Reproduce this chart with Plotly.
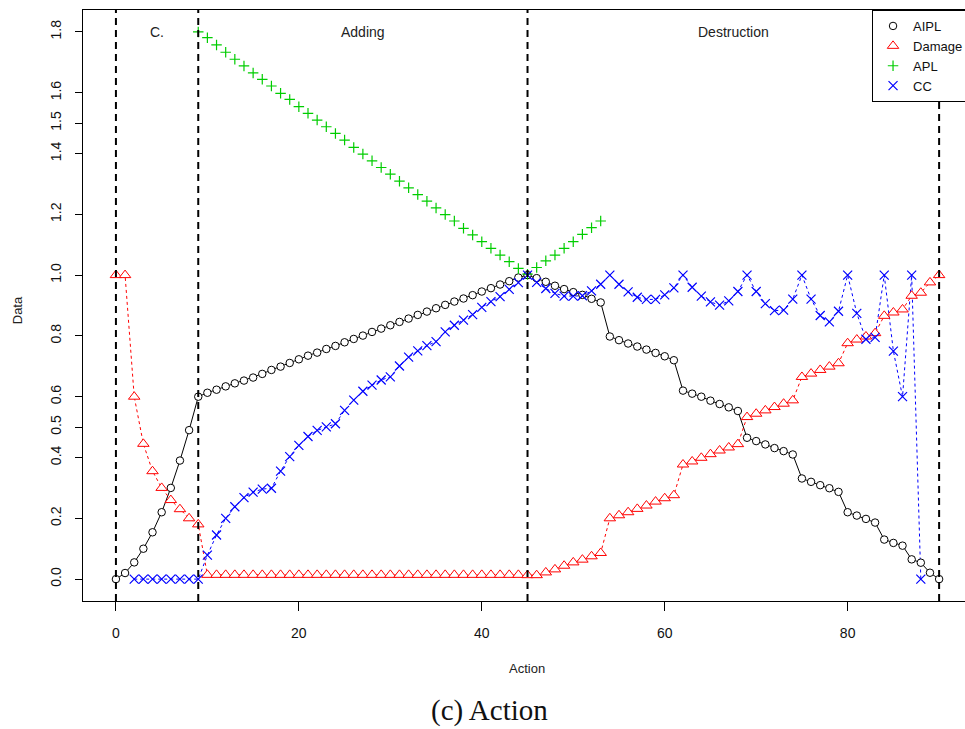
import plotly.graph_objects as go

actions = list(range(91))

aipl = [0.0, 0.02, 0.055, 0.10, 0.154, 0.22, 0.30, 0.39, 0.49, 0.60,
        0.613, 0.623, 0.634, 0.644, 0.653, 0.663, 0.675, 0.688, 0.699, 0.711,
        0.723, 0.735, 0.745, 0.757, 0.767, 0.779, 0.790, 0.801, 0.813, 0.824,
        0.835, 0.846, 0.857, 0.869, 0.880, 0.891, 0.902, 0.913, 0.923, 0.934,
        0.946, 0.957, 0.969, 0.980, 0.992, 1.0, 0.99, 0.978, 0.965, 0.954,
        0.944, 0.935, 0.922, 0.910, 0.798, 0.786, 0.775, 0.765, 0.755, 0.744,
        0.733, 0.720, 0.62, 0.61, 0.60, 0.587, 0.576, 0.565, 0.553, 0.465,
        0.454, 0.443, 0.431, 0.421, 0.41, 0.331, 0.32, 0.309, 0.299, 0.287,
        0.220, 0.209, 0.198, 0.186, 0.13, 0.119, 0.11, 0.065, 0.054, 0.021,
        0.0]

damage = [1.0, 1.0, 0.60, 0.445, 0.355, 0.30, 0.26, 0.23, 0.20, 0.18,
          0.014, 0.014, 0.014, 0.014, 0.014, 0.014, 0.014, 0.014, 0.014, 0.014,
          0.014, 0.014, 0.014, 0.014, 0.014, 0.014, 0.014, 0.014, 0.014, 0.014,
          0.014, 0.014, 0.014, 0.014, 0.014, 0.014, 0.014, 0.014, 0.014, 0.014,
          0.014, 0.014, 0.014, 0.014, 0.014, 0.013, 0.013, 0.022, 0.032, 0.044,
          0.055, 0.064, 0.075, 0.086, 0.20, 0.21, 0.22, 0.231, 0.242, 0.255,
          0.266, 0.276, 0.377, 0.387, 0.399, 0.411, 0.423, 0.433, 0.444, 0.533,
          0.544, 0.555, 0.566, 0.577, 0.588, 0.665, 0.676, 0.688, 0.699, 0.71,
          0.776, 0.788, 0.798, 0.809, 0.866, 0.877, 0.887, 0.932, 0.942, 0.976,
          1.0]

apl = [None] * 9 + [
    1.80, 1.781, 1.757, 1.733, 1.710, 1.688, 1.665, 1.644, 1.622, 1.598,
    1.578, 1.554, 1.532, 1.510, 1.488, 1.466, 1.444, 1.420, 1.398, 1.376,
    1.354, 1.332, 1.309, 1.287, 1.265, 1.243, 1.221, 1.199, 1.178, 1.154,
    1.132, 1.110, 1.088, 1.066, 1.044, 1.022, 1.003, 1.025, 1.047, 1.066,
    1.088, 1.11, 1.134, 1.156, 1.178] + [None] * 37

cc = [None, None, 0.0, 0.0, 0.0, 0.0, 0.0, 0.0, 0.0, 0.0,
      0.079, 0.145, 0.2, 0.238, 0.268, 0.286, 0.296, 0.299, 0.355, 0.403,
      0.44, 0.469, 0.489, 0.501, 0.511, 0.555, 0.589, 0.618, 0.638, 0.655,
      0.665, 0.701, 0.730, 0.751, 0.768, 0.781, 0.813, 0.835, 0.852, 0.87,
      0.894, 0.913, 0.929, 0.953, 0.975, 1.0, 0.976, 0.956, 0.94, 0.931,
      0.931, 0.932, 0.948, 0.97, 1.0, 0.97, 0.945, 0.927, 0.92, 0.92,
      0.935, 0.958, 1.0, 0.96, 0.931, 0.912, 0.901, 0.915, 0.946, 1.0,
      0.946, 0.906, 0.883, 0.885, 0.921, 1.0, 0.921, 0.867, 0.846, 0.881,
      1.0, 0.874, 0.789, 0.795, 1.0, 0.75, 0.60, 1.0, 0.0, None,
      None]

phase_bounds = [0, 9, 45, 90]
phase_labels = ["C.", "Adding", "Destruction"]
phase_label_x = [4.5, 27, 67.5]
phase_label_y = 1.8

y_ticks = [0.0, 0.2, 0.4, 0.5, 0.6, 0.8, 1.0, 1.2, 1.4, 1.5, 1.6, 1.8]
x_ticks = [0, 20, 40, 60, 80]

FONT = "Liberation Sans, Arial, sans-serif"
BLACK, RED, GREEN, BLUE = "#000000", "#FF0000", "#00CD00", "#0000FF"

fig = go.Figure()

# connecting lines (drawn first, under markers)
fig.add_trace(go.Scatter(x=actions, y=aipl, mode="lines", showlegend=False,
                         line=dict(color=BLACK, width=1), hoverinfo="skip"))
fig.add_trace(go.Scatter(x=actions, y=damage, mode="lines", showlegend=False,
                         line=dict(color=RED, width=1, dash="3px,3px"), hoverinfo="skip"))
fig.add_trace(go.Scatter(x=actions, y=cc, mode="lines", showlegend=False,
                         line=dict(color=BLUE, width=1, dash="3px,3px"), hoverinfo="skip"))

# markers
fig.add_trace(go.Scatter(x=actions, y=aipl, mode="markers", name="AIPL",
                         marker=dict(symbol="circle", size=7.5, color="white",
                                     line=dict(color=BLACK, width=1))))
fig.add_trace(go.Scatter(x=actions, y=damage, mode="markers", name="Damage",
                         marker=dict(symbol="triangle-up", size=10, color="white",
                                     line=dict(color=RED, width=1))))
fig.add_trace(go.Scatter(x=actions, y=apl, mode="markers", name="APL",
                         marker=dict(symbol="cross-thin-open", size=7.5, color=GREEN,
                                     line=dict(color=GREEN, width=1.2))))
fig.add_trace(go.Scatter(x=actions, y=cc, mode="markers", name="CC",
                         marker=dict(symbol="x-thin-open", size=9, color=BLUE,
                                     line=dict(color=BLUE, width=1.2))))

shapes = []
for b in phase_bounds:
    shapes.append(dict(type="line", xref="x", yref="paper", x0=b, x1=b, y0=0, y1=1,
                       line=dict(color=BLACK, width=2, dash="7px,5px"), layer="above"))

annotations = []
for lab, lx in zip(phase_labels, phase_label_x):
    annotations.append(dict(x=lx, y=phase_label_y, xref="x", yref="y", text=lab,
                            xanchor="center", yanchor="middle",
                            showarrow=False, font=dict(family=FONT, size=14, color="#222")))
annotations.append(dict(x=0.503, y=-0.115, xref="paper", yref="paper", text="Action",
                        xanchor="center", yanchor="middle",
                        showarrow=False, font=dict(family=FONT, size=13, color="#222")))
annotations.append(dict(x=-0.0748, y=0.492, xref="paper", yref="paper", text="Data",
                        xanchor="center", yanchor="middle",
                        textangle=-90, showarrow=False,
                        font=dict(family=FONT, size=13, color="#222")))
annotations.append(dict(x=0.461, y=-0.185, xref="paper", yref="paper", text="(c) Action",
                        xanchor="center", yanchor="middle",
                        showarrow=False,
                        font=dict(family="Liberation Serif, DejaVu Serif, serif", size=29,
                                  color="#111")))

fig.update_layout(
    width=965, height=729,
    margin=dict(l=83, r=0, t=10, b=128, autoexpand=False),
    paper_bgcolor="white", plot_bgcolor="white",
    shapes=shapes, annotations=annotations,
    legend=dict(x=0.8946, y=1, xanchor="left", yanchor="top",
                bordercolor=BLACK, borderwidth=1, bgcolor="white",
                font=dict(family=FONT, size=13, color="#111"),
                tracegroupgap=0),
    xaxis=dict(range=[-3.6, 92.83], tickvals=x_ticks, ticktext=[str(v) for v in x_ticks],
               showgrid=False, zeroline=False, showline=True, mirror=True,
               linecolor=BLACK, linewidth=1, ticks="outside", ticklen=9,
               tickcolor=BLACK, ticklabelstandoff=10,
               tickfont=dict(family=FONT, size=14, color="#111")),
    yaxis=dict(range=[-0.072, 1.872], tickvals=y_ticks,
               ticktext=["%.1f" % v for v in y_ticks], tickangle=-90,
               showgrid=False, zeroline=False, showline=True, mirror=False,
               linecolor=BLACK, linewidth=1, ticks="outside", ticklen=7,
               tickcolor=BLACK, ticklabelstandoff=8,
               tickfont=dict(family=FONT, size=14, color="#111")),
)

fig.write_html("out.html", config={"displayModeBar": False},
               post_script="document.body.style.margin='0px';")
